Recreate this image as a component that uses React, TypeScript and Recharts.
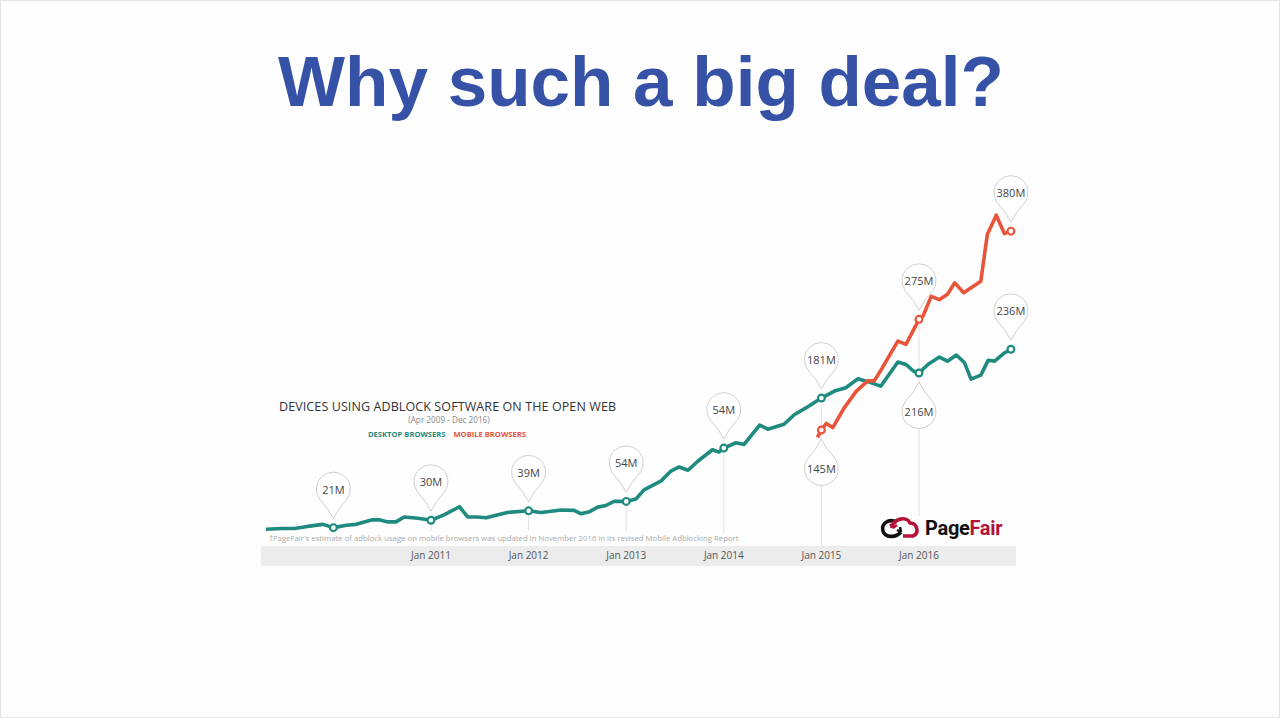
import React from "react";
import { LineChart, Line, XAxis, YAxis, ReferenceDot, ReferenceLine } from "recharts";

// x = months since Jan 2009, y = millions of devices
const desktopMonths = [
  3.7, 5.6, 7.2, 8.8, 10.7, 12, 13.6, 14.8, 16.8, 17.6, 18.7, 19.7, 20.7, 22.4, 24, 25.6, 27.5, 28.5, 29.7,
  30.8, 32, 33.4, 36, 37.5, 38.8, 40, 41.6, 42.4, 43.5, 44.5, 45.5, 46.5, 48, 49.2, 50.2, 52.3, 53.5, 54.5,
  55.6, 56.8, 58.6, 59.4, 60, 61.5, 62.5, 64.4, 65.4, 67.4, 68.7, 70.1, 72, 73.6, 75, 76.5, 77.7, 79.3, 81.4,
  82.4, 83.3, 84, 85.1, 86.5, 87.5, 88.6, 89.6, 90.4, 91.6, 92.5, 93.3, 94.5, 95.3,
];
const desktopValues = [
  18, 19, 19, 21.5, 24, 20, 23, 24, 29.5, 29.5, 27, 27, 33, 31.5, 29, 35.5, 45.5, 33, 33,
  32, 35, 38.5, 40.5, 38.5, 40, 41.5, 41, 37, 39.5, 45, 47, 52, 52, 55, 66, 77, 89, 94,
  90, 101, 115, 112, 117, 123.5, 121.5, 145, 140, 146, 158, 166, 178, 186.5, 190.5, 201.5, 198, 192.5, 222,
  219, 211, 208.5, 219, 228, 223, 230.5, 221, 201, 206, 224, 223, 233, 237.5,
];
const mobileMonths = [
  71.5, 72, 72.6, 73.4, 74.8, 76.3, 77.7, 78.5, 79.5, 81.4, 82.4, 84, 84.5, 85.5, 86.5, 87.5, 88.4, 89.5,
  91.6, 92.4, 93.5, 94.5, 95.3,
];
const mobileValues = [
  130, 139, 147, 142, 166, 186.5, 199, 199, 215, 247.5, 243.5, 274, 278, 302, 298, 304.5, 318.5, 306.5,
  320.5, 377.5, 401, 378.5, 381.5,
];

const tickMonths = [24, 36, 48, 60, 72, 84];
const tickLabels = ["Jan 2011", "Jan 2012", "Jan 2013", "Jan 2014", "Jan 2015", "Jan 2016"];

const pins = [
  { series: "desktop", m: 12, label: "21M", side: "up" },
  { series: "desktop", m: 24, label: "30M", side: "up" },
  { series: "desktop", m: 36, label: "39M", side: "up" },
  { series: "desktop", m: 48, label: "54M", side: "up" },
  { series: "desktop", m: 60, label: "54M", side: "up" },
  { series: "desktop", m: 72, label: "181M", side: "up" },
  { series: "desktop", m: 84, label: "216M", side: "down" },
  { series: "desktop", m: 95.3, label: "236M", side: "up" },
  { series: "mobile", m: 72, label: "145M", side: "down" },
  { series: "mobile", m: 84, label: "275M", side: "up" },
  { series: "mobile", m: 95.3, label: "380M", side: "up" },
];

// faint vertical guide lines under the pins
const stems = [
  { series: "desktop", m: 24, to: 16 },
  { series: "desktop", m: 36, to: 16 },
  { series: "desktop", m: 48, to: 16 },
  { series: "desktop", m: 60, to: 13.5 },
  { series: "desktop", m: 72, to: -3 },
  { series: "mobile", m: 84, to: 34 },
];

const TEAL = "#1f8a80";
const ORANGE = "#e8553b";

const desktopData = desktopMonths.map((m, i) => ({ m, v: desktopValues[i] }));
const mobileData = mobileMonths.map((m, i) => ({ m, v: mobileValues[i] }));

const valueAt = (series: string, m: number) => {
  const data = series === "mobile" ? mobileData : desktopData;
  return data.find(d => d.m === m)?.v ?? 0;
};

function Pin(props: any) {
  const { cx, cy, label, side, color } = props;
  const dir = side === "up" ? -1 : 1;
  const tipY = cy + dir * 9;
  const centerY = cy + dir * 38.5;
  return (
    <g>
      <path
        d="M0,0 Q-4,-9 -13.9,-19.7 A17,17 0 1 1 13.9,-19.7 Q4,-9 0,0 Z"
        transform={`translate(${cx},${tipY}) scale(1,${-dir})`}
        fill="#fff"
        stroke="#cfcfcf"
        strokeWidth={1}
      />
      <text
        x={cx}
        y={centerY}
        textAnchor="middle"
        dominantBaseline="central"
        fontSize={11}
        fill="#444"
        fontFamily="Open Sans, sans-serif"
      >
        {label}
      </text>
      <circle cx={cx} cy={cy} r={3.4} fill="#fff" stroke={color} strokeWidth={2.2} />
    </g>
  );
}

function Logo() {
  return (
    <div style={{ position: "absolute", left: 878, top: 512, display: "flex", alignItems: "center" }}>
      <svg width={42} height={30} viewBox="0 0 42 30">
        <path d="M18 9 C9 5, 2 11, 4 18 C6 25, 17 25, 22 19" stroke="#111" strokeWidth={3.6} fill="none" />
        <path d="M22 19 L18 17 M22 19 L21 14" stroke="#111" strokeWidth={2.5} fill="none" />
        <path d="M13 15 C14 5, 28 3, 31 10 C38 10, 41 20, 34 23 L24 23" stroke="#b5123a" strokeWidth={3.6} fill="none" />
        <path d="M14 15 L18 12 M14 15 L11 11" stroke="#b5123a" strokeWidth={2.5} fill="none" />
      </svg>
      <span
        style={{
          fontFamily: "Roboto, sans-serif",
          fontWeight: 700,
          fontSize: 20,
          letterSpacing: -0.3,
          marginLeft: 4,
          color: "#111",
        }}
      >
        Page<span style={{ color: "#b5123a" }}>Fair</span>
      </span>
    </div>
  );
}

export default function App() {
  return (
    <div
      style={{
        position: "absolute",
        left: 0,
        top: 0,
        width: 1280,
        height: 718,
        background: "#fefefe",
        border: "1px solid #e4e4e4",
        boxSizing: "border-box",
        overflow: "hidden",
        fontFamily: "Open Sans, sans-serif",
      }}
    >
      {/* Slide title */}
      <div
        style={{
          position: "absolute",
          left: 0,
          top: 45,
          width: 1280,
          textAlign: "center",
          fontFamily: "Liberation Sans, Arial, sans-serif",
          fontWeight: 700,
          fontSize: 71,
          lineHeight: "71px",
          color: "#3552a7",
        }}
      >
        Why such a big deal?
      </div>

      {/* axis band */}
      <div style={{ position: "absolute", left: 260, top: 545, width: 755, height: 20, background: "#ececec" }} />

      {/* chart heading */}
      <div style={{ position: "absolute", left: 278, top: 397, fontSize: 12.5, color: "#333", letterSpacing: 0.1 }}>
        DEVICES USING ADBLOCK SOFTWARE ON THE OPEN WEB
      </div>
      <div style={{ position: "absolute", left: 388, top: 413, width: 120, textAlign: "center", fontSize: 8.2, color: "#888" }}>
        (Apr 2009 - Dec 2016)
      </div>
      <div style={{ position: "absolute", left: 367, top: 428, fontSize: 7.6, fontWeight: 700, whiteSpace: "nowrap" }}>
        <span style={{ color: TEAL }}>DESKTOP BROWSERS</span>
        <span style={{ color: ORANGE, marginLeft: 8 }}>MOBILE BROWSERS</span>
      </div>
      <div style={{ position: "absolute", left: 268, top: 532, fontSize: 7.75, color: "#aaa", whiteSpace: "nowrap" }}>
        †PageFair's estimate of adblock usage on mobile browsers was updated in November 2016 in its revised Mobile Adblocking Report
      </div>

      <div style={{ position: "absolute", left: 0, top: 0 }}>
        <LineChart width={1280} height={718} margin={{ top: 198.6, right: 264.4, bottom: 152.5, left: 259.2 }}>
          <XAxis
            type="number"
            dataKey="m"
            domain={[3, 96]}
            ticks={tickMonths}
            tickFormatter={(v: number) => tickLabels[tickMonths.indexOf(v)]}
            axisLine={false}
            tickLine={false}
            height={20}
            tickSize={5.5}
            tickMargin={0}
            tick={{ fontSize: 10, fill: "#555", fontFamily: "Open Sans, sans-serif" }}
            allowDuplicatedCategory={false}
          />
          <YAxis type="number" domain={[-3, 420]} hide allowDataOverflow />
          {stems.map((s, i) => (
            <ReferenceLine
              key={`stem-${i}`}
              segment={[
                { x: s.m, y: valueAt(s.series, s.m) - 6 },
                { x: s.m, y: s.to },
              ]}
              stroke="#e2e2e2"
              strokeWidth={1}
              ifOverflow="visible"
            />
          ))}
          <Line
            data={desktopData}
            dataKey="v"
            type="linear"
            stroke={TEAL}
            strokeWidth={3.6}
            strokeLinejoin="round"
            dot={false}
            isAnimationActive={false}
          />
          <Line
            data={mobileData}
            dataKey="v"
            type="linear"
            stroke={ORANGE}
            strokeWidth={3.6}
            strokeLinejoin="round"
            dot={false}
            isAnimationActive={false}
          />
          {pins.map((p, i) => (
            <ReferenceDot
              key={`pin-${i}`}
              x={p.m}
              y={valueAt(p.series, p.m)}
              r={4}
              ifOverflow="visible"
              shape={(props: any) => (
                <Pin {...props} label={p.label} side={p.side} color={p.series === "mobile" ? ORANGE : TEAL} />
              )}
            />
          ))}
        </LineChart>
      </div>

      <Logo />
    </div>
  );
}
